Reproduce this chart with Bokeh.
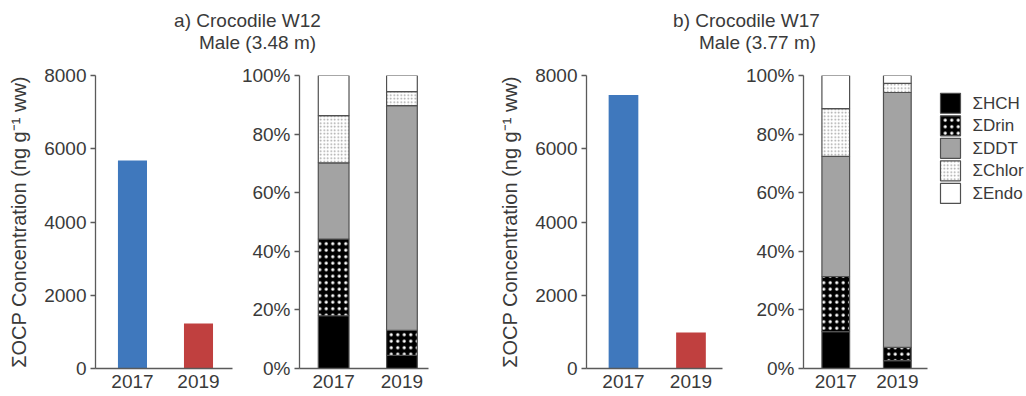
from bokeh.plotting import figure
from bokeh.layouts import row, column
from bokeh.models import (Range1d, FixedTicker, PrintfTickFormatter,
                          ColumnDataSource, Label)
from bokeh.core.properties import value
from bokeh.embed import file_html
from bokeh.resources import INLINE

# ---- data -------------------------------------------------------------
years = ["2017", "2019"]

# total OCP concentration (ng/g wet weight)
conc_w12 = [5680, 1230]
conc_w17 = [7470, 980]

# composition of the total (% of sum), per year
groups = ["ΣHCH", "ΣDrin", "ΣDDT", "ΣChlor", "ΣEndo"]
w12_hch = [18.0, 4.5]
w12_drin = [26.2, 8.5]
w12_ddt = [26.0, 76.7]
w12_chlor = [16.1, 4.8]
w12_endo = [13.7, 5.5]

w17_hch = [12.6, 2.7]
w17_drin = [18.8, 4.5]
w17_ddt = [41.0, 87.0]
w17_chlor = [16.3, 3.1]
w17_endo = [11.3, 2.7]

conc_ticks = [0, 2000, 4000, 6000, 8000]
pct_ticks = [0, 20, 40, 60, 80, 100]

# ---- style ------------------------------------------------------------
FONT = "Liberation Sans"
TXT = "#3a3a3a"
AX = "#5a5a5a"
FS = "19px"
BLUE = "#3f78bd"
RED = "#c0403f"
EDGE = "#505050"

# fill / hatch per component
styles = {
    "ΣHCH": dict(fill_color="black"),
    "ΣDrin": dict(fill_color="black", hatch_pattern="dot", hatch_color="white",
                  hatch_scale=6.5, hatch_weight=4),
    "ΣDDT": dict(fill_color="#a3a3a3"),
    "ΣChlor": dict(fill_color="white", hatch_pattern="dot", hatch_color="#a0a0a0",
                   hatch_scale=3.5, hatch_weight=1),
    "ΣEndo": dict(fill_color="white"),
}

H = 338          # height of the panel row
TOP, BOT = 17, 28


def make_fig(width, left, right, x_range, y_range):
    p = figure(width=width, height=H, x_range=x_range, y_range=y_range,
               output_backend="svg", toolbar_location=None,
               min_border_left=left, min_border_right=right,
               min_border_top=TOP, min_border_bottom=BOT)
    p.grid.visible = False
    p.outline_line_color = None
    for ax in (p.xaxis[0], p.yaxis[0]):
        ax.axis_line_color = AX
        ax.axis_line_width = 1.3
        ax.major_tick_line_color = AX
        ax.major_tick_line_width = 1.3
        ax.minor_tick_line_color = None
        ax.major_label_text_font = FONT
        ax.major_label_text_font_size = FS
        ax.major_label_text_color = TXT
        ax.axis_label_text_font = FONT
        ax.axis_label_text_font_size = "20px"
        ax.axis_label_text_font_style = "normal"
        ax.axis_label_text_color = TXT
    p.yaxis.major_tick_out = 5
    p.yaxis.major_tick_in = 0
    p.yaxis.major_label_standoff = 4
    p.xaxis.major_tick_out = 0
    p.xaxis.major_tick_in = 0
    p.xaxis.major_label_standoff = 6
    p.xaxis.ticker = FixedTicker(ticks=list(range(len(years))))
    p.xaxis.major_label_overrides = {i: y for i, y in enumerate(years)}
    return p


def conc_panel(width, left, right, xr, values):
    p = make_fig(width, left, right, Range1d(*xr), Range1d(0, 8000))
    src = ColumnDataSource(dict(x=list(range(len(years))), top=values,
                                color=[BLUE, RED]))
    p.vbar(x="x", top="top", width=0.44, fill_color="color", line_color=None,
           source=src)
    p.yaxis.ticker = FixedTicker(ticks=conc_ticks)
    p.yaxis.axis_label = "ΣOCP Concentration (ng g⁻¹ ww)"
    p.yaxis.axis_label_standoff = 11
    return p


def comp_panel(width, left, right, xr, cols):
    p = make_fig(width, left, right, Range1d(*xr), Range1d(0, 100))
    xs = list(range(len(years)))
    for i, g in enumerate(groups):
        bottom = [sum(c[k] for c in cols[:i]) for k in xs]
        top = [b + cols[i][k] for k, b in zip(xs, bottom)]
        s = ColumnDataSource(dict(x=xs, bottom=bottom, top=top))
        p.vbar(x="x", bottom="bottom", top="top", width=0.45,
               line_color=EDGE, line_width=1.2, source=s, **styles[g])
    p.yaxis.ticker = FixedTicker(ticks=pct_ticks)
    p.yaxis.formatter = PrintfTickFormatter(format="%d%%")
    return p


f1 = conc_panel(238, 95, 6, (-0.56, 1.515), conc_w12)
f2 = comp_panel(232, 54, 42, (-0.5, 1.389),
                [w12_hch, w12_drin, w12_ddt, w12_chlor, w12_endo])
f3 = conc_panel(272, 116, 20, (-0.548, 1.467), conc_w17)
f4 = comp_panel(193, 41, 8, (-0.524, 1.49),
                [w17_hch, w17_drin, w17_ddt, w17_chlor, w17_endo])

# ---- key: one swatch + label per component ----------------------------
LW = 91
key = figure(width=LW, height=H, x_range=Range1d(0, LW),
             y_range=Range1d(-32 / 26 + H / 26, -32 / 26),
             output_backend="svg", toolbar_location=None,
             x_axis_type=None, y_axis_type=None, min_border=0)
key.grid.visible = False
key.outline_line_color = None
idx = list(range(len(groups)))
for i, g in enumerate(groups):
    key.rect(x=[15], y=[i], width=20, height=20, width_units="screen",
             height_units="screen", line_color=EDGE, line_width=1.2, **styles[g])
key.text(x=[37] * len(groups), y=idx, text=groups, text_font=value(FONT),
         text_font_size="17px", text_color=TXT, text_baseline="middle",
         text_align="left")

# ---- titles above each pair of panels ---------------------------------
t = figure(width=1026, height=58, x_range=Range1d(0, 1026), y_range=Range1d(58, 0),
           output_backend="svg", toolbar_location=None,
           x_axis_type=None, y_axis_type=None, min_border=0)
t.grid.visible = False
t.outline_line_color = None
titles = [("a) Crocodile W12", 247, 20), ("Male (3.48 m)", 257, 42),
          ("b) Crocodile W17", 746, 20), ("Male (3.77 m)", 757, 42)]
for txt, x, y in titles:
    t.add_layout(Label(x=x, y=y, text=txt, text_align="center",
                       text_baseline="middle", text_font=FONT,
                       text_font_size=FS, text_color=TXT))

layout = column(t, row(f1, f2, f3, f4, key, spacing=0), spacing=0)

open("out.html", "w").write(file_html(layout, INLINE))
